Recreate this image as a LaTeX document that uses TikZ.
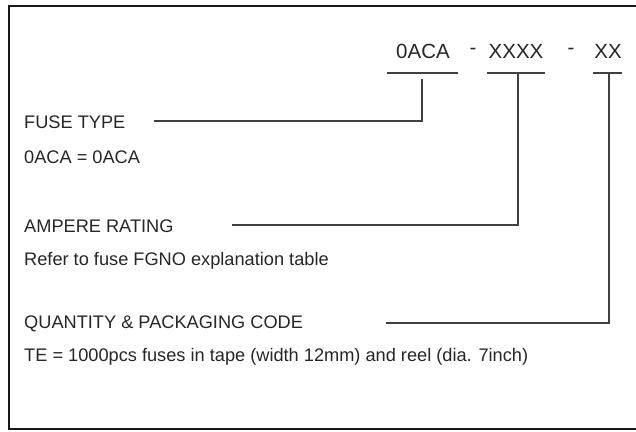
\documentclass[tikz,border=0pt]{standalone}
\usepackage{fontspec}
\setmainfont{Liberation Sans}
\usepackage{tikz}

\tikzset{
  lbl/.style={anchor=west,inner sep=0pt,text=black!85,font=\fontsize{18.2}{21}\selectfont},
  code/.style={inner sep=0pt,text=black!85,font=\fontsize{20.5}{24}\selectfont},
  lead/.style={draw=black!75,line width=1.3pt},
  frame/.style={draw=black!90,line width=2pt}
}

\begin{document}
\begin{tikzpicture}[x=1pt,y=-1pt]
\useasboundingbox (0,0) rectangle (636,431);
% frame
\draw[frame] (640,6) -- (9,6) -- (9,429) -- (640,429);

% code on top
\node[code] (codeA) at (423,51) {0ACA};
\node[code] (dashA) at (473,51) {-};
\node[code] (codeB) at (516,51) {XXXX};
\node[code] (dashB) at (571,51) {-};
\node[code] (codeC) at (608,51) {XX};
\draw[lead] (387,73) -- (458,73);
\draw[lead] (487,73) -- (545,73);
\draw[lead] (593,73) -- (622,73);
\coordinate (ulA) at (422,79);
\coordinate (ulB) at (518,73);
\coordinate (ulC) at (609,73);

% labels
\node[lbl] (typelbl) at (24,122) {FUSE TYPE};
\node[lbl] (typetxt) at (24,157) {0ACA = 0ACA};
\node[lbl] (amplbl) at (24,226) {AMPERE RATING};
\node[lbl] (amptxt) at (24,261) {Refer to fuse FGNO explanation table};
\node[lbl] (packlbl) at (24,324) {QUANTITY \& PACKAGING CODE};
\node[lbl] (packtxt) at (24,357) {TE = 1000pcs fuses in tape (width 12mm) and reel (dia. 7inch)};

% leaders
\coordinate (typeend) at (154,121);
\coordinate (ampend) at (232,225);
\coordinate (packend) at (386,323);
\draw[lead] (typeend) -| (ulA);
\draw[lead] (ampend) -| (ulB);
\draw[lead] (packend) -| (ulC);

\end{tikzpicture}
\end{document}
